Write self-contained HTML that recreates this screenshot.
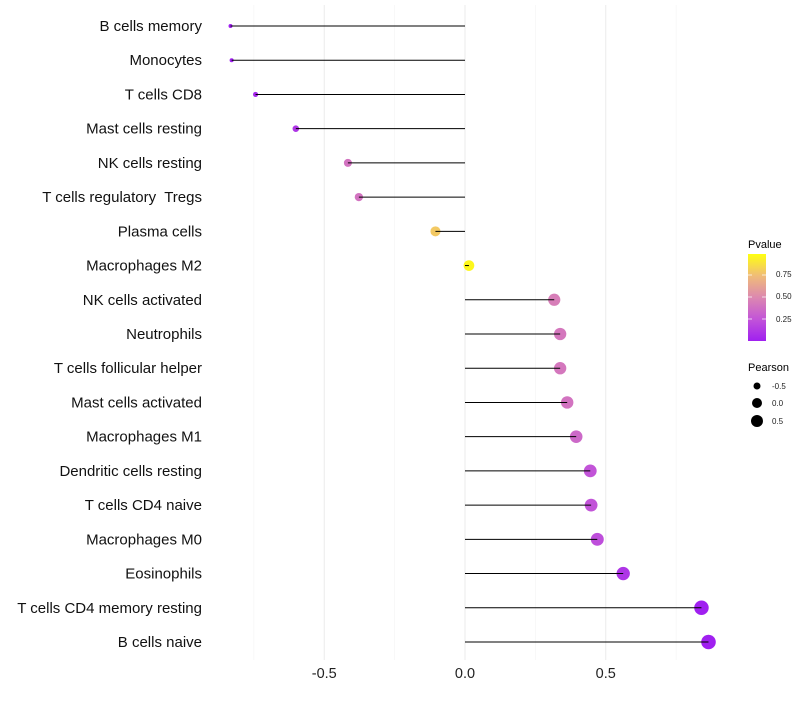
<!DOCTYPE html>
<html><head><meta charset="utf-8"><style>
body{margin:0;background:#fff;font-family:"Liberation Sans",sans-serif}
</style></head><body>
<svg id="c" width="800" height="700" xmlns="http://www.w3.org/2000/svg" font-family="Liberation Sans, sans-serif">
<defs><linearGradient id="pg" x1="0" y1="1" x2="0" y2="0">
<stop offset="0" stop-color="#a020f0"/><stop offset="0.25" stop-color="#c254d8"/><stop offset="0.5" stop-color="#dc88b0"/><stop offset="0.75" stop-color="#f0bc78"/><stop offset="1" stop-color="#ffff10"/>
</linearGradient></defs>
<g id="grid"></g><g id="dots"></g><g id="marks"></g><g id="labels"></g>
<g>
<text x="748" y="248" font-size="11">Pvalue</text>
<rect x="748" y="254" width="18" height="87" fill="url(#pg)"/>
<g font-size="8" fill="#222">
<text x="776" y="277">0.75</text><text x="776" y="299">0.50</text><text x="776" y="322">0.25</text>
</g>
<g stroke="#fff" stroke-width="1" opacity="0.7"><line x1="748" y1="275" x2="752" y2="275"/><line x1="762" y1="275" x2="766" y2="275"/><line x1="748" y1="297" x2="752" y2="297"/><line x1="762" y1="297" x2="766" y2="297"/><line x1="748" y1="319" x2="752" y2="319"/><line x1="762" y1="319" x2="766" y2="319"/></g>
<text x="748" y="371" font-size="11">Pearson</text>
<circle cx="757" cy="386" r="3.5" fill="#000"/><circle cx="757" cy="403" r="5" fill="#000"/><circle cx="757" cy="421" r="6" fill="#000"/>
<g font-size="8" fill="#222"><text x="772" y="389">-0.5</text><text x="772" y="406">0.0</text><text x="772" y="424">0.5</text></g>
</g>
</svg>
<script>
const categories=["B cells memory","Monocytes","T cells CD8","Mast cells resting","NK cells resting","T cells regulatory  Tregs","Plasma cells","Macrophages M2","NK cells activated","Neutrophils","T cells follicular helper","Mast cells activated","Macrophages M1","Dendritic cells resting","T cells CD4 naive","Macrophages M0","Eosinophils","T cells CD4 memory resting","B cells naive"];
const pearson=[-0.833,-0.829,-0.744,-0.601,-0.416,-0.377,-0.105,0.014,0.317,0.338,0.338,0.363,0.395,0.445,0.448,0.47,0.562,0.84,0.865];
const pvalue=[0.0,0.0,0.04,0.1,0.4,0.4,0.8,0.97,0.45,0.42,0.42,0.4,0.35,0.25,0.25,0.22,0.1,0.0,0.0];
const xTicks=[-0.5,0,0.5];
const xTickLabels=["-0.5","0.0","0.5"];
const minorTicks=[-0.75,-0.25,0.25,0.75];

const NS="http://www.w3.org/2000/svg";
const xs=v=>465+v*281.5;
const ys=i=>26+i*(642-26)/18;
const rs=v=>Math.sqrt(Math.max(4,4+29*(v+0.833)));
const stops=[[0,[160,32,240]],[0.25,[194,84,216]],[0.5,[220,136,176]],[0.75,[240,188,120]],[1,[255,255,16]]];
function col(p){for(let k=0;k<stops.length-1;k++){const [a,ca]=stops[k],[b,cb]=stops[k+1];if(p<=b){const t=(p-a)/(b-a);return`rgb(${ca.map((c,j)=>Math.round(c+(cb[j]-c)*t)).join(",")})`;}}return"rgb(255,255,16)";}
function mk(t,a,p){const e=document.createElementNS(NS,t);for(const k in a)e.setAttribute(k,a[k]);p.appendChild(e);return e;}
const grid=document.getElementById("grid"),marks=document.getElementById("marks"),dots=document.getElementById("dots"),labels=document.getElementById("labels");
minorTicks.forEach(v=>{const l=mk("line",{x1:xs(v),x2:xs(v),y1:5,y2:660,stroke:"#f2f2f2","stroke-width":0.6},grid);

});
xTicks.forEach((v,i)=>{const l=mk("line",{x1:xs(v),x2:xs(v),y1:5,y2:660,stroke:"#ebebeb","stroke-width":1},grid);


const t=mk("text",{x:xs(v),y:678,"text-anchor":"middle","font-size":14.5,fill:"#222"},labels);t.textContent=xTickLabels[i];

});
categories.forEach((c,i)=>{const y=ys(i);
const t=mk("text",{x:202,y:y+5,"text-anchor":"end","font-size":15,fill:"#111"},labels);t.textContent=c;t.style.whiteSpace="pre";


const d=mk("circle",{cx:xs(pearson[i]),cy:y,r:rs(pearson[i]),fill:col(pvalue[i])},dots);


const l=mk("line",{x1:xs(0),x2:xs(pearson[i]),y1:y,y2:y,stroke:"#000","stroke-width":1},marks);

});
</script>
</body></html>
